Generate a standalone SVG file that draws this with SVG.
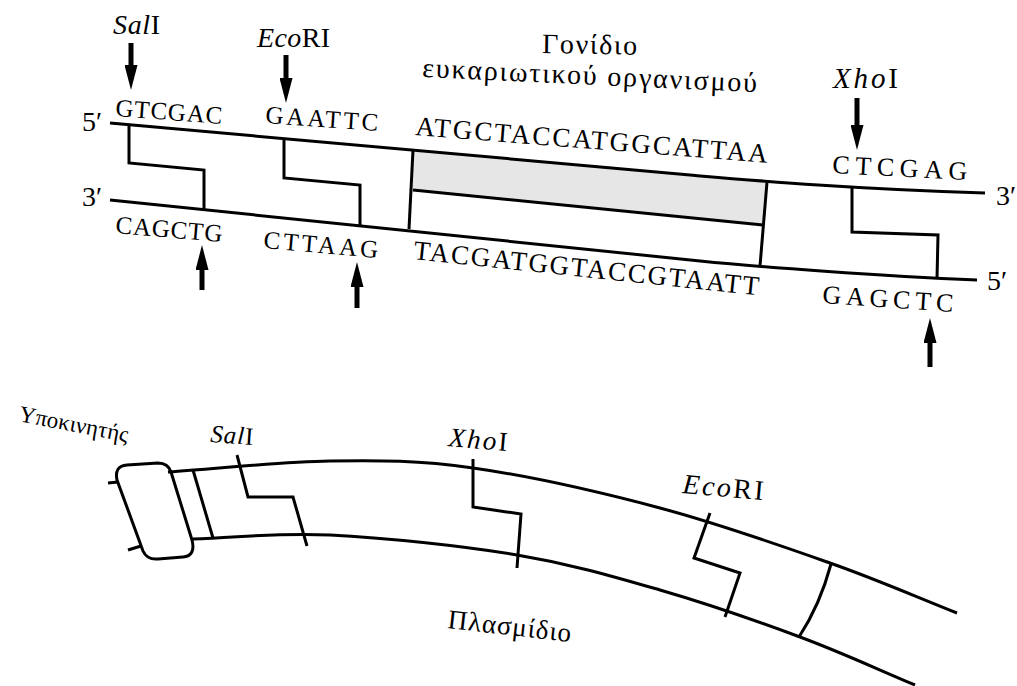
<svg xmlns="http://www.w3.org/2000/svg" width="1017" height="686" viewBox="0 0 1017 686">
<style>
.ln{fill:none;stroke:#000;stroke-width:3;stroke-linejoin:miter;stroke-linecap:butt}
.ar{fill:none;stroke:#000;stroke-width:5;marker-end:url(#ah)}
</style>
<defs>
<marker id="ah" markerWidth="25" markerHeight="13" refX="0" refY="6.5" orient="auto" markerUnits="userSpaceOnUse" viewBox="0 0 25 13">
<path d="M0,0 L25,6.5 L0,13 Z" fill="#000"/>
</marker>
</defs>
<rect width="1017" height="686" fill="#fff"/>

<g id="insert-dna">
<path d="M413,150 L690,175 L767,182 L764,224 L413,190 Z" fill="#e6e6e6"/>
<path class="ln" d="M110,123 L690,175 C760,181 850,189 985,193"/>
<path class="ln" d="M110,200 L700,261 C760,267 880,276 977,280"/>
<path class="ln" d="M413,150 L409,229"/>
<path class="ln" d="M413,190 L763,225"/>
<path class="ln" d="M767,182 L760,266"/>
<path class="ln" d="M129,124 L129,163 L204,170 L204,210"/>
<path class="ln" d="M284,138 L284,178 L360,185 L360,226"/>
<path class="ln" d="M852,188 L852,232 L938,235 L937,279"/>
</g>

<g id="insert-ends" font-family="Liberation Serif" font-size="28" fill="#000">
<text x="82" y="131">5′</text>
<text x="82" y="206">3′</text>
<text x="996" y="205">3′</text>
<text x="987" y="290">5′</text>
</g>

<g id="sequences" font-family="Liberation Serif" font-size="25" fill="#000">
<text x="115" y="116" textLength="107" transform="rotate(4.3 115 116)">GTCGAC</text>
<text x="265" y="123" textLength="113" transform="rotate(4 265 123)">GAATTC</text>
<text x="115" y="233" textLength="107" transform="rotate(4.8 115 233)">CAGCTG</text>
<text x="263" y="248" textLength="115" transform="rotate(5 263 248)">CTTAAG</text>
<text x="415" y="135" font-size="27" textLength="353" transform="rotate(4.5 415 135)">ATGCTACCATGGCATTAA</text>
<text x="413" y="259" font-size="27" textLength="347" transform="rotate(6 413 259)">TACGATGGTACCGTAATT</text>
<text x="832" y="173" font-size="26" textLength="135" transform="rotate(3 832 173)">CTCGAG</text>
<text x="822" y="303" font-size="26" textLength="131" transform="rotate(3.9 822 303)">GAGCTC</text>
</g>

<g id="enzyme-labels-top" font-family="Liberation Serif" font-size="28" fill="#000">
<text x="113" y="34" textLength="47"><tspan font-style="italic">Sal</tspan>I</text>
<text x="257" y="47" textLength="73"><tspan font-style="italic">Eco</tspan>RI</text>
<text x="833" y="88" font-size="29" textLength="65"><tspan font-style="italic">Xho</tspan>I</text>
</g>

<g id="gene-label" font-family="Liberation Serif" fill="#000">
<text font-size="28" x="542" y="53" textLength="95" transform="rotate(1 542 53)">Γονίδιο</text>
<text font-size="28" x="422" y="77" textLength="335" transform="rotate(2.6 422 77)">ευκαριωτικού οργανισμού</text>
</g>

<g id="cut-arrows">
<line class="ar" x1="131" y1="43" x2="131" y2="65"/>
<line class="ar" x1="286" y1="55" x2="286" y2="78"/>
<line class="ar" x1="857" y1="98" x2="857" y2="125"/>
<line class="ar" x1="202" y1="290" x2="202" y2="270"/>
<line class="ar" x1="357" y1="308" x2="357" y2="287"/>
<line class="ar" x1="930" y1="367" x2="930" y2="343"/>
</g>

<g id="plasmid">
<path class="ln" d="M168,472 C222,468.3 279.2,461.7 330,461 C380.8,460.3 418,460.2 473,468 C528,475.8 600.5,492.2 660,508 C719.5,523.8 780.5,545.5 830,563 C879.5,580.5 914.7,596.3 957,613"/>
<path class="ln" d="M193,539 C238.7,537.7 276,532.3 330,535 C384,537.7 462,545.8 517,555 C572,564.2 612.8,576.3 660,590 C707.2,603.7 757.5,621.2 800,637 C842.5,652.8 876.7,669 915,685"/>
<path class="ln" d="M193,470 L213,538"/>
<path class="ln" d="M237,455 L248,497 L293,497 L307,546"/>
<path class="ln" d="M473,459 L473,507 L521,514 L517,568"/>
<path class="ln" d="M710,513 L694,558 L740,573 L725,617"/>
<path class="ln" d="M831,564 Q820,605 799,637"/>
</g>

<g id="promoter">
<path class="ln" d="M127,465 L158,463 Q168,463 171,472 L192,540 Q196,556 183,557 L158,559 Q147,560 143,551 L117,480 Q114,466 127,465 Z"/>
<path class="ln" d="M108,483 L118,482"/>
<path class="ln" d="M128,550 L141,546"/>
</g>

<g id="plasmid-labels" font-family="Liberation Serif" fill="#000">
<text font-size="23" x="18" y="421" textLength="111" transform="rotate(11 18 421)">Υποκινητής</text>
<text font-size="25" x="210" y="442" textLength="43" transform="rotate(4 210 442)"><tspan font-style="italic">Sal</tspan>I</text>
<text font-size="27" x="448" y="446" textLength="59" transform="rotate(5 448 446)"><tspan font-style="italic">Xho</tspan>I</text>
<text font-size="28" x="682" y="493" textLength="81" transform="rotate(5 682 493)"><tspan font-style="italic">Eco</tspan>RI</text>
<text font-size="27" x="447" y="628" textLength="124" transform="rotate(6.5 447 628)">Πλασμίδιο</text>
</g>
</svg>
